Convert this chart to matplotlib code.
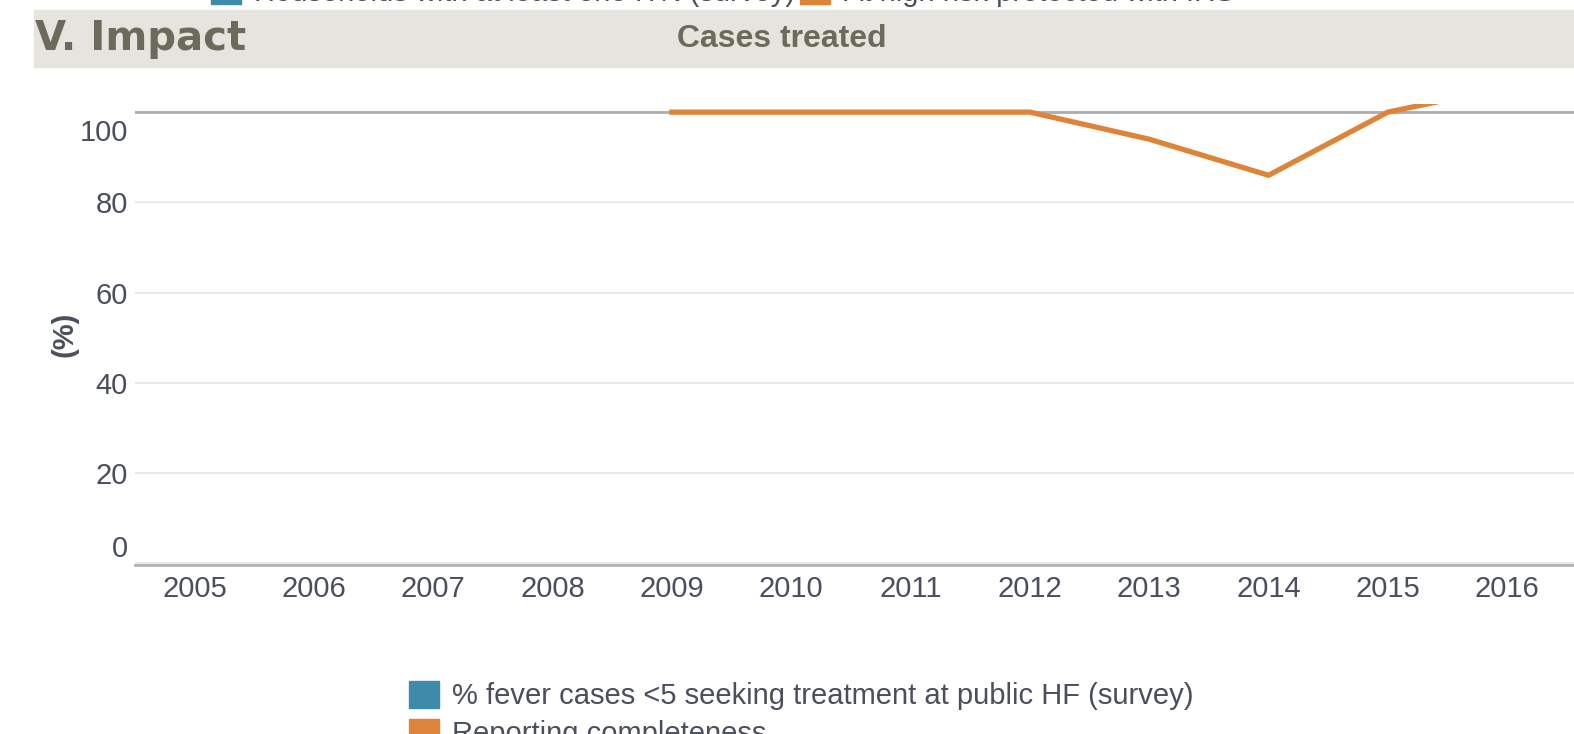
import matplotlib
matplotlib.use("Agg")
import matplotlib.pyplot as plt
from matplotlib.patches import Patch, Rectangle
from matplotlib.transforms import ScaledTranslation

plt.rcParams['font.family'] = ['Liberation Sans', 'DejaVu Sans']

years = [2009, 2010, 2011, 2012, 2013, 2014, 2015, 2016]
reporting_completeness = [100, 100, 100, 100, 94, 86, 100, 105.5]
year_ticks = list(range(2005, 2017))
y_ticks = [0, 20, 40, 60, 80, 100]

top_labels = ["Households with at least one ITN (survey)", "At high risk protected with IRS"]
bottom_labels = ["% fever cases <5 seeking treatment at public HF (survey)", "Reporting completeness"]

blue = "#3d8aa9"
orange = "#de8438"
text_col = "#4b4e5d"
head_col = "#6d6a5b"

W, H = 1574, 734
fig = plt.figure(figsize=(W / 100, H / 100), dpi=100)

# header band
fig.patches.append(Rectangle((34 / W, 1 - 67 / H), 1 - 34 / W, 57 / H,
                             transform=fig.transFigure, color="#e5e4df", zorder=0))
fig.text(35 / W, 1 - 39 / H, "V. Impact", fontsize=29, fontweight="bold", family="DejaVu Sans",
         color=head_col, va="center", ha="left")
fig.text(782 / W, 1 - 39 / H, "Cases treated", fontsize=23, fontweight="bold",
         color=head_col, va="center", ha="center")

ax = fig.add_axes([135 / W, (H - 565) / H, 1 - 135 / W, (565 - 104) / H])
ax.plot(years, reporting_completeness, color=orange, lw=3.8, solid_joinstyle="miter", zorder=3)
ax.axhline(100, color="#adadad", lw=2, zorder=2)

ax.set_xlim(2004.5, 2016.56)
ax.set_ylim(-0.4, 101.8)
ax.set_xticks(year_ticks)
ax.set_yticks(y_ticks)
ax.tick_params(length=0, labelsize=21, colors=text_col)
ax.tick_params(axis="x", pad=7)
ax.tick_params(axis="y", pad=5)
ax.grid(axis="y", color="#e8e8e8", lw=1.5)
ax.set_axisbelow(True)
for s in ["top", "right", "left"]:
    ax.spines[s].set_visible(False)
ax.spines["bottom"].set_color("#b3b3b3")
ax.spines["bottom"].set_linewidth(2)
labels = ax.get_yticklabels()
labels[0].set_va("bottom")
labels[-1].set_va("top")
labels[-1].set_transform(labels[-1].get_transform() + ScaledTranslation(0, -0.07, fig.dpi_scale_trans))
ax.set_ylabel("(%)", fontsize=21, fontweight="bold", color=text_col, labelpad=1)

# bottom legend
h_bottom = [Patch(color=blue), Patch(color=orange)]
fig.legend(h_bottom, bottom_labels, loc="upper left", bbox_to_anchor=(397 / W, 1 - 669 / H),
           frameon=False, fontsize=21, labelcolor=text_col, handlelength=1.05, handleheight=1.05,
           handletextpad=0.45, labelspacing=0.3, borderaxespad=0)

# top legend (cut off by the figure edge)
fig.legend(h_bottom, top_labels, loc="center left", bbox_to_anchor=(199 / W, 1 + 8 / H),
           frameon=False, fontsize=21, labelcolor=text_col, ncol=2, handlelength=1.05,
           handleheight=1.05, handletextpad=0.45, columnspacing=0.15, borderaxespad=0)

fig.savefig("out.png", dpi=100)
